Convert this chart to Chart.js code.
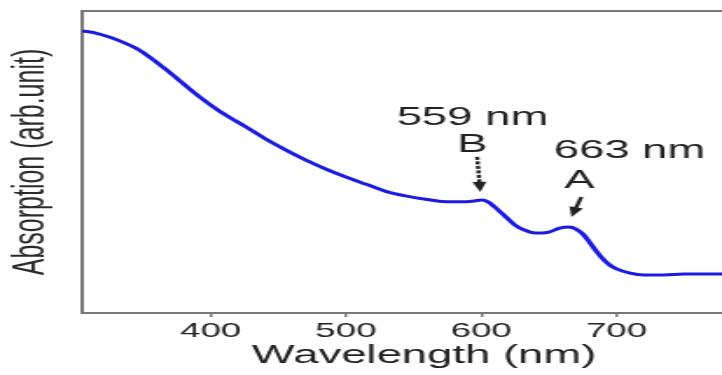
<!DOCTYPE html>
<html>
<head>
<meta charset="utf-8">
<script src="https://cdn.jsdelivr.net/npm/chart.js@4"></script>
<style>
  html, body { margin:0; padding:0; background:#fff; overflow:hidden; }
  /* the reference figure is stretched sideways, so the chart is drawn narrow and widened */
  #wrap { width:413px; height:375px; transform:scale(1.7482,1); transform-origin:0 0; }
</style>
</head>
<body>
<div id="wrap"><canvas id="chart" width="413" height="375"></canvas></div>
<script>
const wavelength = [305,315,325,335,345,355,365,375,385,395,405,415,425,440,455,470,485,500,515,530,545,560,575,585,595,600,605,610,615,620,625,630,640,645,650,658,665,670,675,680,685,690,695,700,710,720,735,750,765,778];
const absorption = [.934,.927,.914,.897,.876,.847,.813,.777,.740,.705,.673,.645,.619,.578,.541,.507,.477,.450,.426,.402,.387,.376,.368,.368,.371,.374,.368,.351,.331,.311,.291,.278,.265,.265,.268,.281,.285,.278,.262,.235,.205,.179,.159,.146,.132,.126,.126,.129,.129,.129];
const xTicks = [400, 500, 600, 700];

// peak marks: wavelength label, letter, and where each sits / points to (data units)
const peakNames   = ["559 nm", "663 nm"];
const peakLetters = ["B", "A"];
const peakNameAt   = [[593.5, .646], [709.6, .537]];
const peakLetterAt = [[593.3, .558], [672.6, .437]];
const arrowFrom    = [[597.0, .517], [674.0, .384]];
const arrowTo      = [[599.3, .401], [666.7, .318]];

const FONT = '"Liberation Sans", Arial, sans-serif';

const annotate = {
  id: "annotate",
  afterDatasetsDraw(chart) {
    const {ctx, scales:{x, y}, chartArea} = chart;
    ctx.save();
    ctx.fillStyle = "#222";
    ctx.strokeStyle = "#222";
    ctx.textAlign = "center";
    ctx.textBaseline = "middle";
    peakNames.forEach((name, i) => {
      ctx.font = `26px ${FONT}`;
      ctx.fillText(name, x.getPixelForValue(peakNameAt[i][0]), y.getPixelForValue(peakNameAt[i][1]));
      ctx.fillText(peakLetters[i], x.getPixelForValue(peakLetterAt[i][0]), y.getPixelForValue(peakLetterAt[i][1]));
      const x0 = x.getPixelForValue(arrowFrom[i][0]), y0 = y.getPixelForValue(arrowFrom[i][1]);
      const x1 = x.getPixelForValue(arrowTo[i][0]),   y1 = y.getPixelForValue(arrowTo[i][1]);
      const ang = Math.atan2(y1 - y0, x1 - x0), head = 10;
      ctx.lineWidth = 2.4;
      ctx.setLineDash(i === 0 ? [3, 1.5] : []);
      ctx.beginPath();
      ctx.moveTo(x0, y0);
      ctx.lineTo(x1 - head * 0.8 * Math.cos(ang), y1 - head * 0.8 * Math.sin(ang));
      ctx.stroke();
      ctx.setLineDash([]);
      ctx.beginPath();
      ctx.moveTo(x1, y1);
      ctx.lineTo(x1 - head * Math.cos(ang) + 4 * Math.sin(ang), y1 - head * Math.sin(ang) - 4 * Math.cos(ang));
      ctx.lineTo(x1 - head * Math.cos(ang) - 4 * Math.sin(ang), y1 - head * Math.sin(ang) + 4 * Math.cos(ang));
      ctx.closePath();
      ctx.fill();
    });
    // x axis title, centred on the full (cropped) axis of the original figure
    ctx.font = `26px ${FONT}`;
    ctx.fillText("Wavelength (nm)", x.getPixelForValue(557.8), chartArea.bottom + 43);
    ctx.restore();
  }
};

new Chart(document.getElementById("chart"), {
  type: "line",
  data: {
    datasets: [{
      label: "Absorption",
      data: wavelength.map((w, i) => ({x: w, y: absorption[i]})),
      borderColor: "#1a1ae0",
      borderWidth: 3,
      pointRadius: 0,
      fill: false,
      cubicInterpolationMode: "monotone",
    }],
  },
  options: {
    responsive: false,
    animation: false,
    devicePixelRatio: 1,
    layout: {padding: {top: 11, right: 0, left: 0, bottom: 0}},
    plugins: {legend: {display: false}, tooltip: {enabled: false}},
    scales: {
      x: {
        type: "linear", min: 305, max: 778,
        afterBuildTicks: s => { s.ticks = xTicks.map(v => ({value: v})); },
        grid: {drawOnChartArea: false, drawTicks: true, tickLength: 4, color: "#777", lineWidth: 1.5},
        border: {display: true, color: "#777", width: 2},
        ticks: {font: {family: FONT, size: 21}, color: "#222", padding: 2, maxRotation: 0},
        afterFit: s => { s.height = 62; },
      },
      xTop: {
        type: "linear", position: "top",
        grid: {display: false},
        border: {display: true, color: "#777", width: 2},
        ticks: {display: false},
        afterFit: s => { s.height = 0; },
      },
      y: {
        min: 0, max: 1,
        grid: {display: false},
        border: {display: true, color: "#777", width: 2},
        ticks: {display: false},
        title: {display: true, text: "Absorption (arb.unit)", color: "#2a2a2a",
                font: {family: FONT, size: 25}, padding: {top: 3, bottom: 0}},
        afterFit: s => { s.width = 47; },
      },
    },
  },
  plugins: [annotate],
});
</script>
</body>
</html>
